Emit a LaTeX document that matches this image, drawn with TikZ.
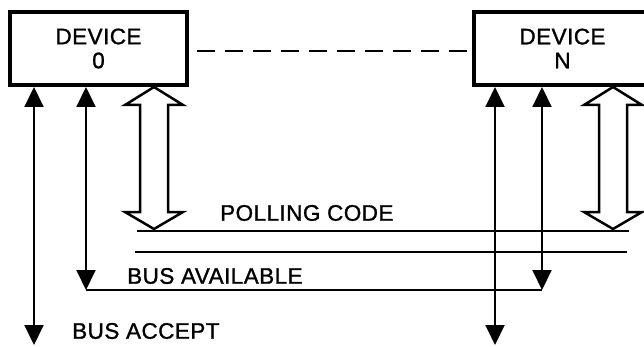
\documentclass[tikz,border=0pt]{standalone}
\usepackage{fontspec}
\setmainfont{Liberation Sans}
\newfontfamily\labelfont{Liberation Sans}[FakeBold=1.2, LetterSpace=2]
\usetikzlibrary{arrows.meta, positioning, calc}

\begin{document}
\begin{tikzpicture}[x=1pt, y=-1pt,
    device/.style={rectangle, draw, line width=4pt, minimum width=177pt, minimum height=73pt,
        align=center, font=\labelfont\fontsize{22.5}{24}\selectfont},
    sig/.style={{Triangle[width=19pt,length=20pt]}-{Triangle[width=19pt,length=20pt]}, line width=2pt},
    bus/.style={line width=2pt},
    hollow/.style={line width=2.5pt, fill=white, line join=miter},
    lbl/.style={anchor=west, inner sep=0pt, font=\labelfont\fontsize{22.5}{25}\selectfont}
]
\useasboundingbox (0,0) rectangle (644,347);

\node[device] (dev0) at (98.5,48.5) {DEVICE\\0};
\node[device, right=283pt of dev0] (devN) {DEVICE\\N};

\draw[bus, dash pattern=on 18pt off 10pt] ([xshift=8pt, yshift=-3pt]dev0.east) -- ([xshift=-2pt, yshift=-3pt]devN.west);

% bus lines
\coordinate (pc0) at (137,231); \coordinate (pcN) at (629,231);
\coordinate (db0) at (135,252); \coordinate (dbN) at (627,252);
\draw[bus] (pc0) -- (pcN);
\draw[bus] (db0) -- (dbN);

% bus available
\coordinate (av0) at (86,290); \coordinate (avN) at (542,290);
\draw[sig] (dev0.south -| av0) -- (av0);
\draw[sig] (devN.south -| avN) -- (avN);
\draw[bus] (av0) -- (avN);

% bus accept
\coordinate (ac0) at (34,345); \coordinate (acN) at (495,345);
\draw[sig] (dev0.south -| ac0) -- (ac0);
\draw[sig] (devN.south -| acN) -- (acN);

% polling code ports
\foreach \cx in {154, 613} {
  \draw[hollow] (\cx,87) -- (\cx+29,105) -- (\cx+14,105) -- (\cx+14,212) -- (\cx+29,212)
    -- (\cx,229) -- (\cx-29,212) -- (\cx-14,212) -- (\cx-14,105) -- (\cx-29,105) -- cycle;
}

\node[lbl] (pclbl) at (220,213) {POLLING CODE};
\node[lbl] (avlbl) at (127,276) {BUS AVAILABLE};
\node[lbl] (aclbl) at (72,331) {BUS ACCEPT};
\end{tikzpicture}
\end{document}
